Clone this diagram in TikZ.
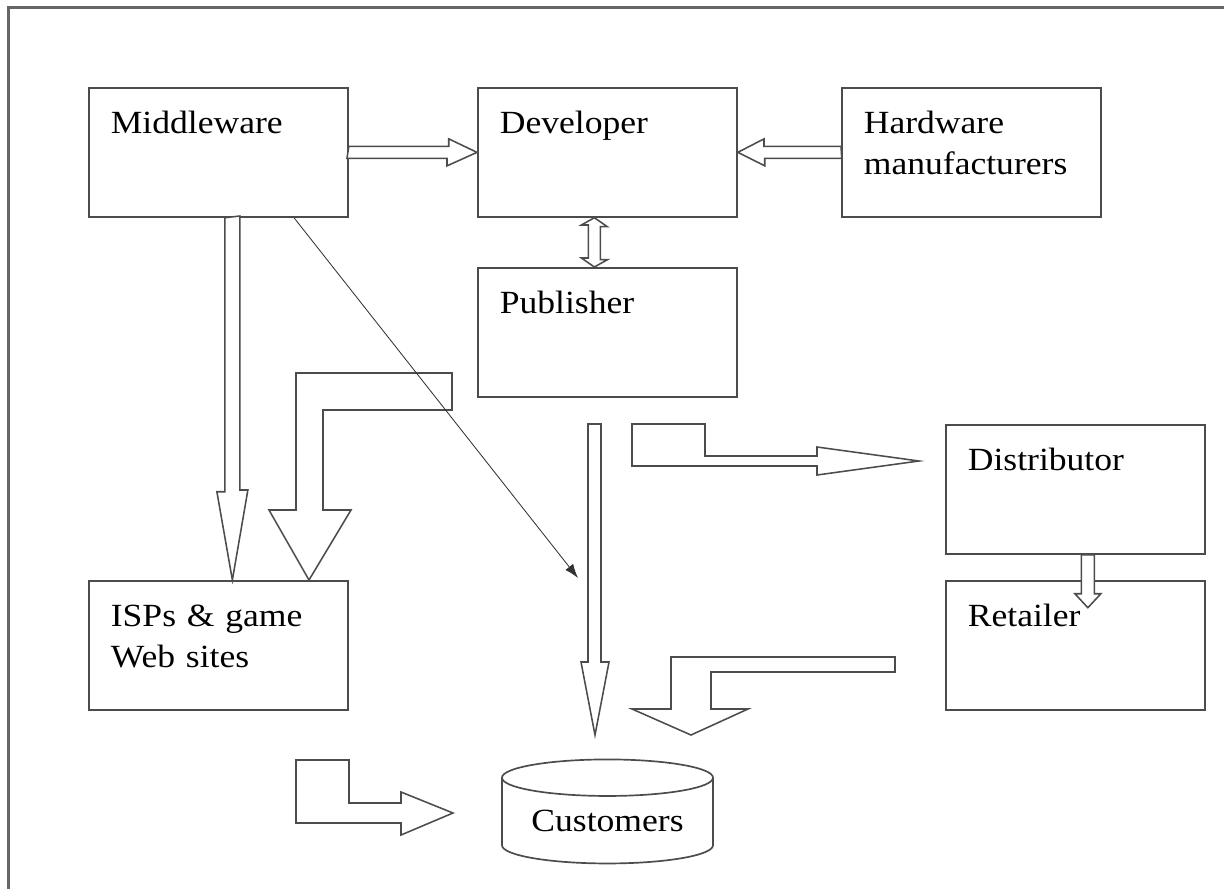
\documentclass[tikz,border=0pt]{standalone}
\usepackage{fontspec}
\setmainfont{Liberation Serif}[FakeStretch=1.1]
\usetikzlibrary{arrows.meta,calc,shapes.geometric}

\begin{document}
\begin{tikzpicture}[x=0.025cm,y=-0.025cm,line join=miter,
    every node/.style={font=\fontsize{23}{29}\selectfont},
    box/.style={draw=black!70,line width=1.2pt,rectangle,anchor=north west,
      text width=5.375cm,align=left,inner xsep=0.55cm,inner ysep=0pt,
      text height=1.15cm,text depth=2.075cm},
    fat/.style={draw=black!70,line width=1.1pt,fill=white},
    thin/.style={draw=black!80,line width=0.6pt,-{Latex[length=10pt,width=7pt]}}]
  \useasboundingbox (0,0) rectangle (1224,889);
  % frame
  \draw[black!60,line width=2pt] (8.5,889) -- (8.5,7.5) -- (1224,7.5);

  % boxes
  \node[box] (mw)   at (88,87)   {Middleware};
  \node[box] (dev)  at (477,87)  {Developer};
  \node[box] (hw)   at (841,87)  {Hardware\\manufacturers};
  \node[box] (pub)  at (477,267) {Publisher};
  \node[box] (dist) at (945,424) {Distributor};
  \node[box] (ret)  at (945,580) {Retailer};
  \node[box] (isp)  at (88,580)  {ISPs \& game\\Web sites};
  \node[cylinder,shape border rotate=90,aspect=0.24,draw=black!70,line width=1.2pt,
        minimum width=5.275cm,minimum height=2.6cm,inner sep=0pt] (cust) at (607.5,821) {Customers};

  % block arrows between boxes
  \draw[fat] (mw.east) ++(0,-6) -- ++(100,0) -- ++(0,-7.5) -- (dev.west)
    -- ++(-30,13.5) -- ++(0,-7.5) -- ++(-100,0) -- cycle;
  \draw[fat] (hw.west) ++(0,-6) -- ++(-77,0) -- ++(0,-7.5) -- (dev.east)
    -- ++(27,13.5) -- ++(0,-7.5) -- ++(77,0) -- cycle;
  \draw[fat] ($(dev.south)+(-13,0)$) -- ++(13,9) -- ++(-7,0) -- ++(0,33) -- ++(7,0)
    -- ($(pub.north)+(-13,0)$) -- ++(-13,-9) -- ++(7,0) -- ++(0,-33) -- ++(-7,0) -- cycle;
  \draw[fat] ($(mw.south)+(14,0)$) ++(-7.5,0) -- ++(0,274) -- ++(-8,0)
    -- ($(isp.north)+(14,0)$) -- ++(15.5,-90) -- ++(-8,0) -- ++(0,-274) -- cycle;
  \draw[fat] ($(dist.south)+(12.5,0)$) ++(-6.5,0) -- ++(0,39) -- ++(-6.5,0)
    -- ++(13,14) -- ++(13,-14) -- ++(-6.5,0) -- ++(0,-39) -- cycle;

  % loose block arrows
  \draw[fat] (296,373) -- (452,373) -- (452,410) -- (323,410) -- (323,510) -- (351,510)
    -- ($(isp.north west)+(221,0)$) -- (269,510) -- (296,510) -- cycle;
  \draw[fat] (588,424) -- (601,424) -- (601,662) -- (609,662) -- (595,735)
    -- (581,662) -- (588,662) -- cycle;
  \draw[fat] (632,424) -- (705,424) -- (705,456) -- (817,456) -- (817,447) -- (919,461)
    -- (817,475) -- (817,466) -- (632,466) -- cycle;
  \draw[fat] (895,657) -- (895,672) -- (711,672) -- (711,709) -- (748,709) -- (691,735)
    -- (632,709) -- (671,709) -- (671,657) -- cycle;
  \draw[fat] (296,760) -- (349,760) -- (349,803) -- (401,803) -- (401,792) -- (453,813)
    -- (401,835) -- (401,823) -- (296,823) -- cycle;

  % thin arrow
  \coordinate (hit) at (578,578);
  \draw[thin] ($(mw.south west)!0.79!(mw.south east)$) -- (hit);
\end{tikzpicture}
\end{document}
